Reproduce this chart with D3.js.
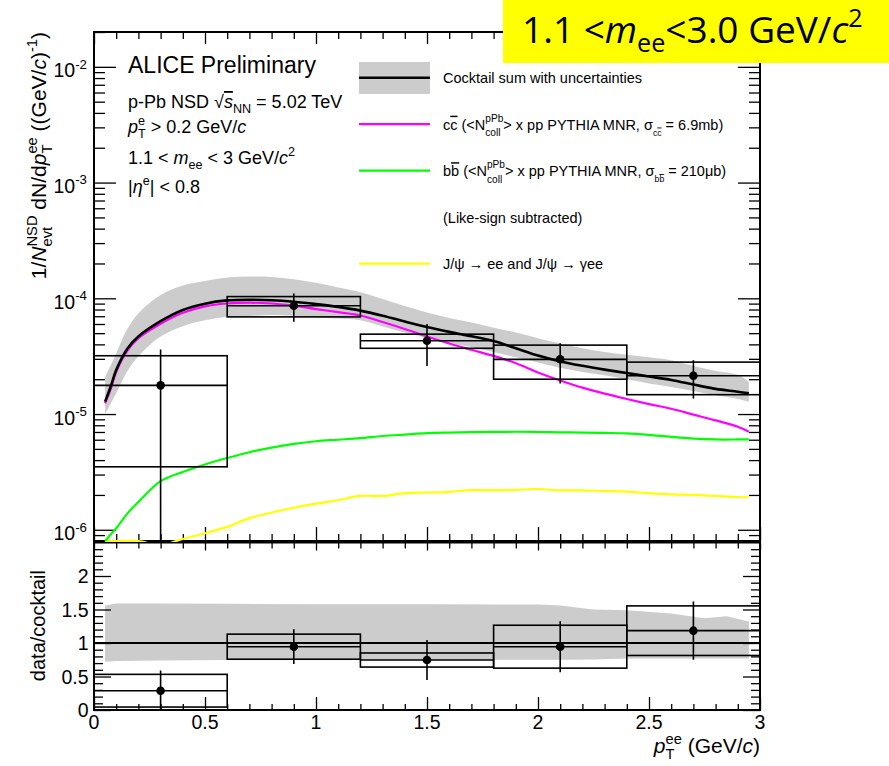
<!DOCTYPE html>
<html>
<head>
<meta charset="utf-8">
<script src="https://cdn.jsdelivr.net/npm/d3@7"></script>
<style>
  html, body { margin: 0; padding: 0; background: #fff; }
  svg { display: block; font-family: "Liberation Sans", Arial, sans-serif; }
</style>
</head>
<body>
<svg id="chart" width="889" height="766"></svg>
<script>
// ---- dielectron pT spectrum, 1.1 < m_ee < 3.0 GeV/c^2, p-Pb 5.02 TeV ----

// pT grid of the model curves (GeV/c)
const curvePt = [0.05, 0.075, 0.1, 0.15, 0.2, 0.3, 0.4, 0.5, 0.6, 0.7, 0.8, 0.9, 1.0, 1.1, 1.2,
                 1.3, 1.4, 1.5, 1.6, 1.7, 1.8, 1.9, 2.0, 2.1, 2.2, 2.3, 2.4, 2.5, 2.6, 2.7, 2.8, 2.9, 2.95];
// cocktail sum
const cocktail = [1.28e-5, 1.72e-5, 2.40e-5, 3.67e-5, 4.68e-5, 6.34e-5, 7.93e-5, 8.99e-5, 9.59e-5, 9.73e-5,
                  9.62e-5, 9.33e-5, 8.91e-5, 8.43e-5, 7.83e-5, 7.08e-5, 6.31e-5, 5.65e-5, 5.13e-5, 4.70e-5,
                  4.28e-5, 3.70e-5, 3.20e-5, 2.85e-5, 2.61e-5, 2.42e-5, 2.26e-5, 2.11e-5, 1.97e-5, 1.80e-5,
                  1.65e-5, 1.56e-5, 1.51e-5];
// cocktail uncertainty band
const cocktailHi = [2.10e-5, 2.63e-5, 3.34e-5, 5.43e-5, 7.41e-5, 1.07e-4, 1.29e-4, 1.41e-4, 1.51e-4, 1.54e-4,
                    1.53e-4, 1.46e-4, 1.36e-4, 1.24e-4, 1.13e-4, 9.86e-5, 8.57e-5, 7.53e-5, 6.76e-5, 6.17e-5,
                    5.58e-5, 5.07e-5, 4.52e-5, 4.06e-5, 3.70e-5, 3.44e-5, 3.25e-5, 3.09e-5, 2.91e-5, 2.60e-5,
                    2.36e-5, 2.19e-5, 1.90e-5];
const cocktailLo = [1.00e-5, 1.23e-5, 1.51e-5, 2.34e-5, 3.16e-5, 4.68e-5, 5.75e-5, 6.46e-5, 6.92e-5, 7.05e-5,
                    7.16e-5, 7.08e-5, 6.87e-5, 6.68e-5, 6.46e-5, 5.71e-5, 5.07e-5, 4.54e-5, 4.12e-5, 3.80e-5,
                    3.43e-5, 3.09e-5, 2.79e-5, 2.51e-5, 2.31e-5, 2.16e-5, 2.00e-5, 1.84e-5, 1.71e-5, 1.58e-5,
                    1.45e-5, 1.35e-5, 1.28e-5];
// c cbar contribution
const ccbar = [1.24e-5, 1.64e-5, 2.32e-5, 3.52e-5, 4.52e-5, 6.03e-5, 7.50e-5, 8.51e-5, 9.02e-5, 9.16e-5,
               9.02e-5, 8.65e-5, 8.07e-5, 7.59e-5, 7.11e-5, 6.24e-5, 5.43e-5, 4.68e-5, 4.07e-5, 3.59e-5,
               3.18e-5, 2.75e-5, 2.29e-5, 1.95e-5, 1.69e-5, 1.50e-5, 1.35e-5, 1.22e-5, 1.11e-5, 9.89e-6,
               8.81e-6, 7.76e-6, 7.03e-6];
// b bbar contribution
const bbbar = [8.0e-7, 9.12e-7, 1.03e-6, 1.38e-6, 1.74e-6, 2.63e-6, 3.16e-6, 3.67e-6, 4.17e-6, 4.68e-6,
               5.13e-6, 5.52e-6, 5.82e-6, 6.00e-6, 6.19e-6, 6.46e-6, 6.65e-6, 6.84e-6, 6.92e-6, 6.98e-6,
               7.01e-6, 7.03e-6, 7.00e-6, 6.95e-6, 6.92e-6, 6.87e-6, 6.81e-6, 6.61e-6, 6.34e-6, 6.14e-6,
               6.03e-6, 6.03e-6, 6.04e-6];
// J/psi contribution
const jpsi = [8.0e-7, 8.0e-7, 8.0e-7, 8.0e-7, 8.0e-7, 7.4e-7, 8.32e-7, 9.33e-7, 1.06e-6, 1.26e-6,
              1.41e-6, 1.55e-6, 1.68e-6, 1.80e-6, 1.96e-6, 1.96e-6, 2.07e-6, 2.10e-6, 2.13e-6, 2.20e-6,
              2.20e-6, 2.21e-6, 2.25e-6, 2.19e-6, 2.19e-6, 2.16e-6, 2.14e-6, 2.07e-6, 2.02e-6, 2.00e-6,
              1.96e-6, 1.92e-6, 1.91e-6];

// measured points
const binLo = [0.0, 0.6, 1.2, 1.8, 2.4];
const binHi = [0.6, 1.2, 1.8, 2.4, 3.0];
const binPt = [0.3, 0.9, 1.5, 2.1, 2.7];
const yieldVal = [1.77e-5, 8.63e-5, 4.30e-5, 2.97e-5, 2.14e-5];
const yieldStat = [1.85e-5, 2.35e-5, 1.70e-5, 1.13e-5, 0.78e-5];
const yieldSys = [1.42e-5, 1.72e-5, 0.60e-5, 0.97e-5, 0.67e-5];
const ratioVal = [0.288, 0.945, 0.746, 0.945, 1.184];
const ratioStat = [0.30, 0.26, 0.30, 0.38, 0.435];
const ratioSys = [0.244, 0.187, 0.105, 0.32, 0.37];

// cocktail uncertainty in the ratio panel
const ratioBandPt = [0.05, 0.1, 0.3, 0.6, 1.0, 1.5, 2.0, 2.1, 2.25, 2.4, 2.6, 2.75, 2.85, 2.95];
const ratioBandHi = [1.56, 1.59, 1.59, 1.585, 1.58, 1.58, 1.575, 1.56, 1.50, 1.49, 1.44, 1.37, 1.40, 1.32];
const ratioBandLo = [0.72, 0.73, 0.74, 0.745, 0.745, 0.745, 0.75, 0.75, 0.755, 0.77, 0.77, 0.77, 0.77, 0.77];

// axis ticks
const xMajor = [0, 0.5, 1, 1.5, 2, 2.5, 3];
const xLabels = ["0", "0.5", "1", "1.5", "2", "2.5", "3"];
const yDecades = [1e-6, 1e-5, 1e-4, 1e-3, 1e-2];
const yDecadeExp = ["-6", "-5", "-4", "-3", "-2"];
const rMajor = [0, 0.5, 1, 1.5, 2];
const rLabels = ["0", "0.5", "1", "1.5", "2"];

// ---- layout ----
const svg = d3.select("#chart");
const L = 94, R = 760, T = 32, MID = 541, B2T = 542.5, BOT = 710;
const x = d3.scaleLinear().domain([0, 3]).range([L, R]);
const yT = d3.scaleLog().domain([8e-7, 2e-2]).range([MID, T]);
const yB = d3.scaleLinear().domain([0, 2.5]).range([BOT, B2T]);

const xMinor = d3.range(0, 3.0001, 0.1).filter(v => Math.abs(v * 2 - Math.round(v * 2)) > 1e-6);
const yMinor = [];
[-7, -6, -5, -4, -3, -2].forEach(e => { for (let k = 2; k <= 9; k++) { const v = k * Math.pow(10, e); if (v >= 8e-7 && v <= 2e-2) yMinor.push(v); } });
const rMinor = d3.range(0, 2.5001, 0.1).filter(v => Math.abs(v * 2 - Math.round(v * 2)) > 1e-6);

svg.append("rect").attr("width", 889).attr("height", 766).attr("fill", "#fff");

// rich text with sub/superscripts (ROOT-style TLatex)
function rich(parent, segs, fs) {
  const t = parent.append("text").attr("font-size", fs);
  let cur = 0, dxPend = 0;
  function put(str, off, size, it, deco) {
    const ts = t.append("tspan").text(str).attr("font-size", size).attr("dy", off - cur);
    if (dxPend) ts.attr("dx", dxPend);
    dxPend = 0;
    if (it) ts.attr("font-style", "italic");
    if (deco) ts.style("text-decoration", deco);
    cur = off;
    return ts;
  }
  segs.forEach(s => {
    if (typeof s === "string") { put(s, 0, fs); return; }
    const sc = s.scale || 0.7;
    const up = s.up !== undefined ? s.up : 0.42, dn = s.dn !== undefined ? s.dn : 0.3;
    if (s.sup !== undefined && s.sub !== undefined) {
      const a = put(s.sup, -up * fs, sc * fs, s.it);
      const la = a.node().getComputedTextLength();
      dxPend = -la;
      const b = put(s.sub, dn * fs, sc * fs, s.it);
      const lb = b.node().getComputedTextLength();
      if (la > lb) dxPend = la - lb;
    } else if (s.sup !== undefined) put(s.sup, -up * fs, sc * fs, s.it, s.deco);
    else if (s.sub !== undefined) put(s.sub, dn * fs, sc * fs, s.it, s.deco);
    else put(s.t, 0, fs, s.it, s.deco);
  });
  return t;
}

// ---- clipping regions of the two panels ----
svg.append("clipPath").attr("id", "clipTop").append("rect")
  .attr("x", L).attr("y", T).attr("width", R - L).attr("height", MID - T + 1);
svg.append("clipPath").attr("id", "clipBot").append("rect")
  .attr("x", L).attr("y", B2T).attr("width", R - L).attr("height", BOT - B2T);

const gBand = svg.append("g").attr("clip-path", "url(#clipTop)");
const gBandR = svg.append("g").attr("clip-path", "url(#clipBot)");

// cocktail uncertainty bands
gBand.append("path")
  .datum(curvePt.map((p, i) => [p, cocktailLo[i], cocktailHi[i]]))
  .attr("fill", "#cccccc")
  .attr("d", d3.area().curve(d3.curveCatmullRom).x(d => x(d[0])).y0(d => yT(d[1])).y1(d => yT(d[2])));

gBandR.append("path")
  .datum(ratioBandPt.map((p, i) => [p, ratioBandLo[i], ratioBandHi[i]]))
  .attr("fill", "#cccccc")
  .attr("d", d3.area().x(d => x(d[0])).y0(d => yB(d[1])).y1(d => yB(d[2])));

// ---- frames and axes ----
function axis(gen, tx, ty, w) {
  const g = svg.append("g").attr("transform", `translate(${tx},${ty})`).call(gen);
  g.select(".domain").remove();
  g.selectAll("text").remove();
  g.selectAll("line").attr("stroke", "#000").attr("stroke-width", w || 1.3);
  return g;
}
const blank = () => "";
// upper panel
axis(d3.axisBottom(x).tickValues(xMajor).tickSize(-14).tickFormat(blank), 0, MID);
axis(d3.axisBottom(x).tickValues(xMinor).tickSize(-7).tickFormat(blank), 0, MID);
axis(d3.axisTop(x).tickValues(xMajor).tickSize(-12).tickFormat(blank), 0, T);
axis(d3.axisTop(x).tickValues(xMinor).tickSize(-7).tickFormat(blank), 0, T);
axis(d3.axisLeft(yT).tickValues(yDecades).tickSize(-22).tickFormat(blank), L, 0);
axis(d3.axisLeft(yT).tickValues(yMinor).tickSize(-11).tickFormat(blank), L, 0);
axis(d3.axisRight(yT).tickValues(yDecades).tickSize(-22).tickFormat(blank), R, 0);
axis(d3.axisRight(yT).tickValues(yMinor).tickSize(-11).tickFormat(blank), R, 0);
// lower panel
axis(d3.axisBottom(x).tickValues(xMajor).tickSize(-13).tickFormat(blank), 0, BOT);
axis(d3.axisBottom(x).tickValues(xMinor).tickSize(-6).tickFormat(blank), 0, BOT);
axis(d3.axisTop(x).tickValues(xMajor).tickSize(-8).tickFormat(blank), 0, B2T);
axis(d3.axisTop(x).tickValues(xMinor).tickSize(-6).tickFormat(blank), 0, B2T);
axis(d3.axisLeft(yB).tickValues(rMajor).tickSize(-17).tickFormat(blank), L, 0);
axis(d3.axisLeft(yB).tickValues(rMinor).tickSize(-9).tickFormat(blank), L, 0);
axis(d3.axisRight(yB).tickValues(rMajor).tickSize(-17).tickFormat(blank), R, 0);
axis(d3.axisRight(yB).tickValues(rMinor).tickSize(-9).tickFormat(blank), R, 0);

svg.append("rect").attr("x", L).attr("y", T).attr("width", R - L).attr("height", MID - T)
  .attr("fill", "none").attr("stroke", "#000").attr("stroke-width", 2);
svg.append("rect").attr("x", L).attr("y", B2T).attr("width", R - L).attr("height", BOT - B2T)
  .attr("fill", "none").attr("stroke", "#000").attr("stroke-width", 2);

// tick labels
const lab = svg.append("g").attr("fill", "#000");
yDecades.forEach((v, i) => {
  rich(lab, ["10", { sup: yDecadeExp[i], scale: 0.68, up: 0.45 }], 19.5)
    .attr("x", 87).attr("y", yT(v) + 10.5).attr("text-anchor", "end");
});
rMajor.forEach((v, i) => {
  lab.append("text").attr("x", 88.5).attr("y", yB(v) + 7).attr("text-anchor", "end")
    .attr("font-size", 19.5).text(rLabels[i]);
});
xMajor.forEach((v, i) => {
  lab.append("text").attr("x", x(v)).attr("y", 729).attr("text-anchor", "middle")
    .attr("font-size", 19.5).text(xLabels[i]);
});

// axis titles
rich(lab, ["1/", { t: "N", it: true }, { sup: "NSD", sub: "evt" }, " dN/d", { t: "p", it: true },
           { sup: "ee", sub: "T" }, " ((GeV/", { t: "c", it: true }, ")", { sup: "-1" }, ")"], 21)
  .attr("text-anchor", "end").attr("transform", "translate(46,32) rotate(-90)");
lab.append("text").attr("text-anchor", "end").attr("transform", "translate(45,570) rotate(-90)")
  .attr("font-size", 20).text("data/cocktail");
rich(lab, [{ t: "p", it: true }, { sup: "ee", sub: "T" }, " (GeV/", { t: "c", it: true }, ")"], 21)
  .attr("x", 760).attr("y", 753).attr("text-anchor", "end");

// ---- model curves ----
const gTop = svg.append("g").attr("clip-path", "url(#clipTop)");
const gBot = svg.append("g").attr("clip-path", "url(#clipBot)");
function curve(vals, color, w) {
  gTop.append("path")
    .datum(curvePt.map((p, i) => [p, vals[i]]))
    .attr("fill", "none").attr("stroke", color).attr("stroke-width", w)
    .attr("stroke-linejoin", "round")
    .attr("d", d3.line().curve(d3.curveCatmullRom).x(d => x(d[0])).y(d => yT(d[1])));
}
curve(jpsi, "#ffff00", 2.2);
curve(bbbar, "#00ff00", 2.2);
curve(ccbar, "#ff00ff", 2.2);
curve(cocktail, "#000000", 2.6);

gBot.append("line").attr("x1", x(0)).attr("x2", x(3)).attr("y1", yB(1)).attr("y2", yB(1))
  .attr("stroke", "#000").attr("stroke-width", 2.2);

// ---- data points: systematic boxes, stat bars, markers ----
function points(g, y, val, stat, sys, minV) {
  binPt.forEach((p, i) => {
    const lo = Math.max(val[i] - stat[i], minV);
    g.append("rect").attr("x", x(binLo[i])).attr("width", x(binHi[i]) - x(binLo[i]))
      .attr("y", y(val[i] + sys[i])).attr("height", y(Math.max(val[i] - sys[i], minV)) - y(val[i] + sys[i]))
      .attr("fill", "none").attr("stroke", "#000").attr("stroke-width", 1.6);
    g.append("line").attr("x1", x(binLo[i])).attr("x2", x(binHi[i]))
      .attr("y1", y(val[i])).attr("y2", y(val[i])).attr("stroke", "#000").attr("stroke-width", 1.6);
    g.append("line").attr("x1", x(p)).attr("x2", x(p))
      .attr("y1", y(val[i] + stat[i])).attr("y2", y(lo)).attr("stroke", "#000").attr("stroke-width", 1.6);
    g.append("circle").attr("cx", x(p)).attr("cy", y(val[i])).attr("r", 4.3).attr("fill", "#000");
  });
}
points(gTop, yT, yieldVal, yieldStat, yieldSys, 1e-7);
points(gBot, yB, ratioVal, ratioStat, ratioSys, 0);

// ---- legend ----
const leg = svg.append("g");
const legX0 = 359, legX1 = 430, legTx = 443;
const legY = [77.7, 124.2, 170.7, 217.2, 263.7];
leg.append("rect").attr("x", legX0).attr("y", 62).attr("width", legX1 - legX0).attr("height", 32).attr("fill", "#cccccc");
[["#000000", 0, 2.6], ["#ff00ff", 1, 2.2], ["#00ff00", 2, 2.2], ["#ffff00", 4, 2.2]].forEach(([c, k, w]) => {
  leg.append("line").attr("x1", legX0).attr("x2", legX1).attr("y1", legY[k]).attr("y2", legY[k])
    .attr("stroke", c).attr("stroke-width", w);
});
const lfs = 14.5;
leg.append("text").attr("x", legTx).attr("y", legY[0] + 5.5).attr("font-size", lfs).text("Cocktail sum with uncertainties");
rich(leg, ["c", { t: "c", deco: "overline" }, " (<N", { sup: "pPb", sub: "coll", up: 0.55, dn: 0.45 },
           "> x pp PYTHIA MNR, σ", { sub: "c", dn: 0.4, scale: 0.6 }, { sub: "c", dn: 0.4, scale: 0.6, deco: "overline" },
           " = 6.9mb)"], lfs)
  .attr("x", legTx).attr("y", legY[1] + 5.5);
rich(leg, ["b", { t: "b", deco: "overline" }, " (<N", { sup: "pPb", sub: "coll", up: 0.55, dn: 0.45 },
           "> x pp PYTHIA MNR, σ", { sub: "b", dn: 0.4, scale: 0.6 }, { sub: "b", dn: 0.4, scale: 0.6, deco: "overline" },
           " = 210μb)"], lfs)
  .attr("x", legTx).attr("y", legY[2] + 5.5);
leg.append("text").attr("x", legTx).attr("y", legY[3] + 5.5).attr("font-size", lfs).text("(Like-sign subtracted)");
leg.append("text").attr("x", legTx).attr("y", legY[4] + 5.5).attr("font-size", lfs).text("J/ψ → ee and J/ψ → γee");

// ---- system labels ----
const info = svg.append("g");
info.append("text").attr("x", 128).attr("y", 73).attr("font-size", 23).text("ALICE Preliminary");
rich(info, ["p-Pb NSD √", { t: "s", it: true, deco: "overline" }, { sub: "NN" }, " = 5.02 TeV"], 18).attr("x", 128).attr("y", 108);
rich(info, [{ t: "p", it: true }, { sup: "e", sub: "T" }, " > 0.2 GeV/", { t: "c", it: true }], 18).attr("x", 128).attr("y", 133);
rich(info, ["1.1 < ", { t: "m", it: true }, { sub: "ee" }, " < 3 GeV/", { t: "c", it: true }, { sup: "2" }], 18).attr("x", 128).attr("y", 164);
rich(info, ["|", { t: "η", it: true }, { sup: "e" }, "| < 0.8"], 18).attr("x", 128).attr("y", 193);

// ---- mass-window banner ----
svg.append("rect").attr("x", 503).attr("y", 0).attr("width", 386).attr("height", 63).attr("fill", "#ffff00");
rich(svg, ["1.1 <", { t: "m", it: true }, { sub: "ee", scale: 0.68, dn: 0.25 }, "<3.0 GeV/", { t: "c", it: true },
           { sup: "2", scale: 0.68, up: 0.42 }], 37)
  .attr("x", 522).attr("y", 43).attr("font-family", "'Open Sans', sans-serif").attr("fill", "#000");
</script>
</body>
</html>
